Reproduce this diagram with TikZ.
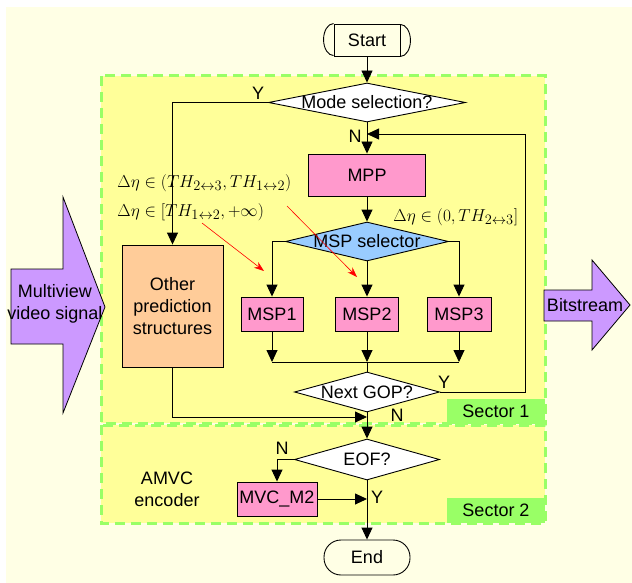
\documentclass[tikz,border=0pt]{standalone}
\usepackage{fontspec}
\setmainfont{Liberation Sans}
\DeclareMathSizes{19}{19}{14.5}{11}
\usetikzlibrary{shapes.geometric,arrows.meta}
\definecolor{creamc}{HTML}{FFFFE5}
\definecolor{secyellow}{HTML}{FFFF99}
\definecolor{dashgreen}{HTML}{99FF66}
\definecolor{secgreen}{HTML}{99FF66}
\definecolor{pinkc}{HTML}{FF99CC}
\definecolor{bluec}{HTML}{99CCFF}
\definecolor{orangec}{HTML}{FFCC99}
\definecolor{purplec}{HTML}{CC99FF}
\begin{document}
\begin{tikzpicture}[x=1pt,y=-1pt,
  font=\fontsize{18}{22}\selectfont,
  line width=0.9pt,
  arr/.style={-{Triangle[length=12pt,width=11pt]}},
  proc/.style={draw, rectangle, inner sep=0pt, fill=pinkc},
  dec/.style={draw, diamond, inner sep=0pt, fill=white},
  sector/.style={draw=dashgreen, dash pattern=on 10pt off 6pt, line width=3pt, fill=secyellow},
  seclabel/.style={fill=secgreen, inner sep=0pt, minimum width=98pt, minimum height=25pt},
  yn/.style={inner sep=0pt},
  mathtxt/.style={inner sep=0pt, anchor=west, font=\fontsize{19}{20}\selectfont},
  redarr/.style={draw=red, line width=0.6pt, -{Stealth[length=10pt,width=7pt]}},
  bigarrow/.style={draw, fill=purplec, line width=0.8pt}]

\useasboundingbox (0,0) rectangle (632,583);
\fill[white] (0,0) rectangle (632,583);
\fill[creamc] (6,7) rectangle (632,583);

% sectors
\draw[sector] (101,76) rectangle (545,423);
\draw[sector] (101,425) rectangle (545,523);
\node[seclabel] (s1) at (496,411) {Sector 1};
\node[seclabel] (s2) at (496,510.5) {Sector 2};

% big arrows
\draw[bigarrow] (11,269) -- (63,269) -- (63,197) -- (105,307) -- (63,413) -- (63,344) -- (11,344) -- cycle;
\node[align=center, inner sep=0pt] (mv) at (55,304) {Multiview\\video signal};
\draw[bigarrow] (544,290) -- (592,290) -- (592,260) -- (630,305) -- (592,350) -- (592,321) -- (544,321) -- cycle;
\node[inner sep=0pt] (bs) at (585,305) {Bitstream};

% nodes
\node[draw, minimum width=66pt, minimum height=32pt, inner sep=0pt] (start) at (367,40) {Start};
\draw (start.north west) arc[start angle=90, end angle=270, x radius=10pt, y radius=16pt];
\draw (start.south east) arc[start angle=-90, end angle=90, x radius=10pt, y radius=16pt];

\node[dec, minimum width=197pt, minimum height=39pt, label={center:Mode selection?}] (mode) at (367,102.5) {};
\node[proc, minimum width=117pt, minimum height=42pt] (mpp) at (367,175) {MPP};
\node[dec, fill=bluec, minimum width=163pt, minimum height=39pt, label={center:MSP selector}] (sel) at (367,241.5) {};
\node[proc, minimum width=62pt, minimum height=34pt] (msp1) at (272,314) {MSP1};
\node[proc, minimum width=63pt, minimum height=34pt] (msp2) at (367,314) {MSP2};
\node[proc, minimum width=64pt, minimum height=34pt] (msp3) at (459,314) {MSP3};
\node[draw, fill=orangec, minimum width=101pt, minimum height=122pt, inner sep=0pt, align=center] (other) at (172.5,306) {Other\\prediction\\structures};
\node[dec, minimum width=145pt, minimum height=40pt, label={center:Next GOP?}] (next) at (367,392) {};
\node[dec, minimum width=145pt, minimum height=41pt, label={center:EOF?}] (eof) at (367,459.5) {};
\node[proc, minimum width=80pt, minimum height=34pt] (mvc) at (277,499) {MVC\_M2};
\node[draw, rounded corners=17pt, minimum width=86pt, minimum height=35pt, inner sep=0pt] (end) at (367,557.5) {End};

% coordinates
\coordinate (jn) at (367,362);
\coordinate (mt) at (367,134);
\coordinate (lp) at (525,134);
\coordinate (ot) at (367,417);
\coordinate (mj) at (367,499);

% connectors
\draw[arr] (start.south) -- (mode.north);
\draw[arr] (mode.west) -| (other.north);
\draw[arr] (mode.south) -- (mpp.north);
\draw[arr] (mpp.south) -- (sel.north);
\draw[arr] (sel.west) -| (msp1.north);
\draw[arr] (sel.east) -| (msp3.north);
\draw[arr] (sel.south) -- (msp2.north);
\draw[arr] (msp1.south) -- (msp1.south |- jn);
\draw[arr] (msp2.south) -- (jn);
\draw[arr] (msp3.south) -- (msp3.south |- jn);
\draw (msp1.south |- jn) -- (msp3.south |- jn);
\draw (jn) -- (next.north);
\draw[arr] (next.east) -| (lp) -- (mt);
\draw[arr] (other.south) |- (ot);
\draw[arr] (next.south) -- (eof.north);
\draw[arr] (eof.west) -| (mvc.north);
\draw[arr] (mvc.east) -- (mj);
\draw[arr] (eof.south) -- (end.north);

% labels
\node[yn] (y1) at (258,93) {Y};
\node[yn] (n1) at (355,136) {N};
\node[yn] (y2) at (444,382) {Y};
\node[yn] (n2) at (397,415) {N};
\node[yn] (n3) at (282,448) {N};
\node[yn] (y3) at (377,497) {Y};
\node[align=center, inner sep=0pt] (amvc) at (167,489.5) {AMVC\\encoder};

% math texts
\node[mathtxt] (t1) at (117,183) {$\Delta\eta\in(TH_{2\leftrightarrow3},TH_{1\leftrightarrow2})$};
\node[mathtxt] (t2) at (117,212) {$\Delta\eta\in[TH_{1\leftrightarrow2},+\infty)$};
\node[mathtxt] (t3) at (393,217) {$\Delta\eta\in(0,TH_{2\leftrightarrow3}]$};

% red arrows
\coordinate (r1s) at (202,223);
\coordinate (r1e) at (264,271);
\coordinate (r2s) at (287,206);
\coordinate (r2e) at (357,277);
\draw[redarr] (r1s) -- (r1e);
\draw[redarr] (r2s) -- (r2e);
\end{tikzpicture}
\end{document}
